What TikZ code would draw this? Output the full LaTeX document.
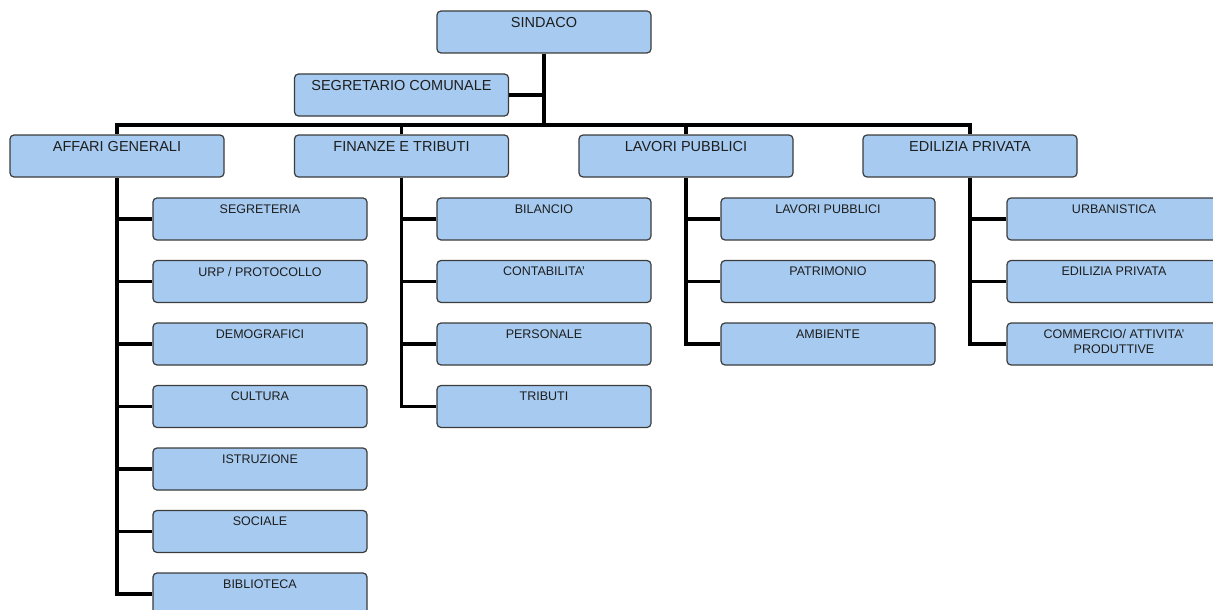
\documentclass[tikz,border=0pt]{standalone}
\usepackage{fontspec}
\setmainfont{Liberation Sans}
\definecolor{boxfill}{RGB}{166,202,240}
\definecolor{boxline}{RGB}{60,60,60}
\definecolor{txt}{RGB}{30,30,30}
\begin{document}
\begin{tikzpicture}[x=1pt,y=-1pt,
  box/.style={draw=boxline, line width=1.2pt, fill=boxfill, rounded corners=4pt,
    minimum width=214pt, minimum height=42pt, inner sep=0pt},
  toptxt/.style={anchor=north, yshift=-7pt, inner sep=0pt,
    font=\fontsize{14.5}{16}\selectfont, text=txt},
  subtxt/.style={anchor=north, yshift=-7pt, inner sep=0pt,
    font=\fontsize{12.5}{15}\selectfont, text=txt, align=center},
  conn/.style={line width=3.5pt, black}]
\useasboundingbox (0,0) rectangle (1213,610);
\clip (0,0) rectangle (1213,610);

% top level
\node[box, label={[toptxt]north:SINDACO}] (sindaco) at (544,32) {};
\node[box, label={[toptxt]north:SEGRETARIO COMUNALE}] (segr) at (401.5,95) {};
\coordinate (bus) at (544,125);
\node[box, label={[toptxt]north:AFFARI GENERALI}] (affari) at (117,156) {};
\node[box, label={[toptxt]north:FINANZE E TRIBUTI}] (finanze) at (401.5,156) {};
\node[box, label={[toptxt]north:LAVORI PUBBLICI}] (lavori) at (686,156) {};
\node[box, label={[toptxt]north:EDILIZIA PRIVATA}] (edilizia) at (970,156) {};

% column 1
\node[box, label={[subtxt]north:SEGRETERIA}] (segreteria) at (260,219) {};
\node[box, label={[subtxt]north:URP / PROTOCOLLO}] (urp) at (260,281.5) {};
\node[box, label={[subtxt]north:DEMOGRAFICI}] (demo) at (260,344) {};
\node[box, label={[subtxt]north:CULTURA}] (cultura) at (260,406.5) {};
\node[box, label={[subtxt]north:ISTRUZIONE}] (istruzione) at (260,469) {};
\node[box, label={[subtxt]north:SOCIALE}] (sociale) at (260,531.5) {};
\node[box, label={[subtxt]north:BIBLIOTECA}] (biblioteca) at (260,594) {};

% column 2
\node[box, label={[subtxt]north:BILANCIO}] (bilancio) at (544,219) {};
\node[box, label={[subtxt]north:CONTABILITA'}] (contab) at (544,281.5) {};
\node[box, label={[subtxt]north:PERSONALE}] (personale) at (544,344) {};
\node[box, label={[subtxt]north:TRIBUTI}] (tributi) at (544,406.5) {};

% column 3
\node[box, label={[subtxt]north:LAVORI PUBBLICI}] (lavpub) at (828,219) {};
\node[box, label={[subtxt]north:PATRIMONIO}] (patrimonio) at (828,281.5) {};
\node[box, label={[subtxt]north:AMBIENTE}] (ambiente) at (828,344) {};

% column 4
\node[box, label={[subtxt]north:URBANISTICA}] (urbanistica) at (1114,219) {};
\node[box, label={[subtxt]north:EDILIZIA PRIVATA}] (edpriv) at (1114,281.5) {};
\node[box, label={[subtxt]north:{COMMERCIO/ ATTIVITA'\\PRODUTTIVE}}] (commercio) at (1114,344) {};

% connectors
\draw[conn] (sindaco.south) -- (bus);
\draw[conn] (segr.east) -- (segr.east -| sindaco.south);
\draw[conn] (affari.north) |- (edilizia.north |- bus) -- (edilizia.north);
\draw[conn] (finanze.north) -- (finanze.north |- bus);
\draw[conn] (lavori.north) -- (lavori.north |- bus);

\draw[conn] (affari.south) |- (biblioteca.west);
\foreach \n in {segreteria,urp,demo,cultura,istruzione,sociale}
  \draw[conn] (affari.south |- \n.west) -- (\n.west);

\draw[conn] (finanze.south) |- (tributi.west);
\foreach \n in {bilancio,contab,personale}
  \draw[conn] (finanze.south |- \n.west) -- (\n.west);

\draw[conn] (lavori.south) |- (ambiente.west);
\foreach \n in {lavpub,patrimonio}
  \draw[conn] (lavori.south |- \n.west) -- (\n.west);

\draw[conn] (edilizia.south) |- (commercio.west);
\foreach \n in {urbanistica,edpriv}
  \draw[conn] (edilizia.south |- \n.west) -- (\n.west);
\end{tikzpicture}
\end{document}
